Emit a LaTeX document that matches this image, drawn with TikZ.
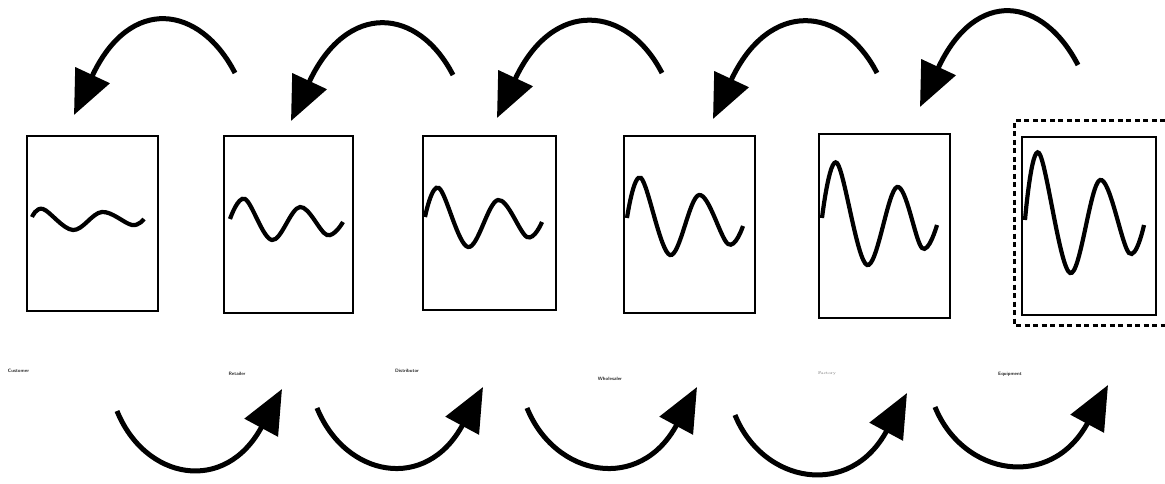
\documentclass[tikz,border=0pt]{standalone}
\usepackage{tikz}
\usetikzlibrary{arrows.meta}

\begin{document}
\begin{tikzpicture}[x=1pt,y=-1pt,
  stagebox/.style={draw=black,line width=2pt,inner sep=0pt},
  wave/.style={line width=4.2pt,black,smooth,tension=0.6},
  flow/.style={line width=5pt,-{Triangle[length=44pt,width=37pt]}},
  stagelabel/.style={inner sep=0pt,font=\fontsize{4.8}{6}\sffamily\bfseries,text=black!85}]
\useasboundingbox (0,0) rectangle (1165,484);
% stages
\node [stagebox,minimum width=131pt,minimum height=175pt] (customer) at (92.5,223.5) {};
\node [stagebox,minimum width=129pt,minimum height=177pt] (retailer) at (288.5,224.5) {};
\node [stagebox,minimum width=133pt,minimum height=174pt] (distributor) at (489.5,223) {};
\node [stagebox,minimum width=131pt,minimum height=177pt] (wholesaler) at (689.5,224.5) {};
\node [stagebox,minimum width=131pt,minimum height=184pt] (factory) at (884.5,226) {};
\node [stagebox,minimum width=134pt,minimum height=178pt] (equipment) at (1089,226) {};
\draw [line width=3pt,dash pattern=on 5pt off 3.5pt] (1165,121) -- (1014,121) -- (1014,325) -- (1165,325);
% demand signals
\draw [wave] plot coordinates {(32,217) (43,209) (73,230) (102,212) (132,225) (144,219)};
\draw [wave] plot coordinates {(230,219) (245,199) (272,240) (300,207) (327,235) (343,222)};
\draw [wave] plot coordinates {(425,217) (439,188) (468,247) (498,200) (527,237) (542,222)};
\draw [wave] plot coordinates {(627,218) (641,178) (670,255) (699,195) (728,244) (743,226)};
\draw [wave] plot coordinates {(822,218) (837,163) (867,265) (897,187) (922,248) (937,225)};
\draw [wave] plot coordinates {(1025,220) (1039,153) (1070,273) (1100,180) (1129,253) (1144,225)};
% labels
\node [stagelabel] (customerlabel) at (18.5,371) {Customer};
\node [stagelabel] (retailerlabel) at (237,374) {Retailer};
\node [stagelabel] (distributorlabel) at (407,371) {Distributor};
\node [stagelabel] (wholesalerlabel) at (610,379) {Wholesaler};
\node [stagelabel,font=\fontsize{3.9}{5}\selectfont,text=black!60] (factorylabel) at (827,374) {Factory};
\node [stagelabel] (equipmentlabel) at (1010,374) {Equipment};
% orders going upstream
\coordinate (o1) at (235,73);  \coordinate (o1e) at (74,115);
\coordinate (o2) at (453,75);  \coordinate (o2e) at (291,121);
\coordinate (o3) at (662,73);  \coordinate (o3e) at (497,118);
\coordinate (o4) at (877,73);  \coordinate (o4e) at (713,119);
\coordinate (o5) at (1078,65); \coordinate (o5e) at (920,107);
\draw [flow] (o1) .. controls +(-35,-68) and +(56,-120) .. (o1e);
\draw [flow] (o2) .. controls +(-35,-68) and +(56,-120) .. (o2e);
\draw [flow] (o3) .. controls +(-35,-68) and +(56,-120) .. (o3e);
\draw [flow] (o4) .. controls +(-35,-68) and +(56,-120) .. (o4e);
\draw [flow] (o5) .. controls +(-35,-68) and +(56,-120) .. (o5e);
% deliveries going downstream
\coordinate (d1) at (117,411); \coordinate (d1e) at (282,389);
\coordinate (d2) at (317,408); \coordinate (d2e) at (483,387);
\coordinate (d3) at (527,408); \coordinate (d3e) at (697,387);
\coordinate (d4) at (735,415); \coordinate (d4e) at (907,393);
\coordinate (d5) at (935,407); \coordinate (d5e) at (1108,385);
\draw [flow] (d1) .. controls +(28,69) and +(-57,106) .. (d1e);
\draw [flow] (d2) .. controls +(28,69) and +(-57,106) .. (d2e);
\draw [flow] (d3) .. controls +(28,69) and +(-57,106) .. (d3e);
\draw [flow] (d4) .. controls +(28,69) and +(-57,106) .. (d4e);
\draw [flow] (d5) .. controls +(28,69) and +(-57,106) .. (d5e);
\end{tikzpicture}
\end{document}
